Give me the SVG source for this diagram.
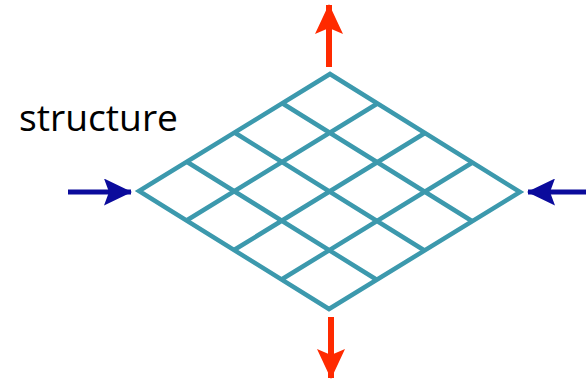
<svg xmlns="http://www.w3.org/2000/svg" width="586" height="379" viewBox="0 0 586 379">
<style>
.grid{fill:none;stroke:#3C99AD;stroke-width:4.5;stroke-linejoin:miter;stroke-linecap:butt}
.red{stroke:#FF2A00;stroke-width:6;fill:none}
.blue{stroke:#0B0B9C;stroke-width:5;fill:none}
.lbl{font-family:"Open Sans","Liberation Sans",sans-serif;font-size:37px;fill:#000}
</style>
<defs>
<marker id="hr" viewBox="0 0 30 28" refX="29" refY="14" markerWidth="30" markerHeight="28" markerUnits="userSpaceOnUse" orient="auto">
<path d="M0,0 L30,14 L0,28 L6,14 Z" fill="#FF2A00"/>
</marker>
<marker id="hb" viewBox="0 0 28 27" refX="27" refY="13.5" markerWidth="28" markerHeight="27" markerUnits="userSpaceOnUse" orient="auto">
<path d="M0,0 L28,13.5 L0,27 L5,13.5 Z" fill="#0B0B9C"/>
</marker>
</defs>
<g id="label"><text class="lbl" x="19" y="131" textLength="159" lengthAdjust="spacingAndGlyphs">structure</text></g>
<g id="grid">
<polygon class="grid" points="330,74 520,192 329,309 139,191"/>
<path class="grid" d="M282.25,103.25 L472.25,221.25 M234.5,132.5 L424.5,250.5 M186.75,161.75 L376.75,279.75 M377.5,103.5 L186.5,220.5 M425,133 L234,250 M472.5,162.5 L281.5,279.5"/>
</g>
<g id="connectors">
<line class="red" x1="329" y1="67" x2="329" y2="5" marker-end="url(#hr)"/>
<line class="red" x1="331" y1="317" x2="331" y2="378" marker-end="url(#hr)"/>
<line class="blue" x1="68" y1="192" x2="131" y2="192" marker-end="url(#hb)"/>
<line class="blue" x1="586" y1="192" x2="528" y2="192" marker-end="url(#hb)"/>
</g>
</svg>
